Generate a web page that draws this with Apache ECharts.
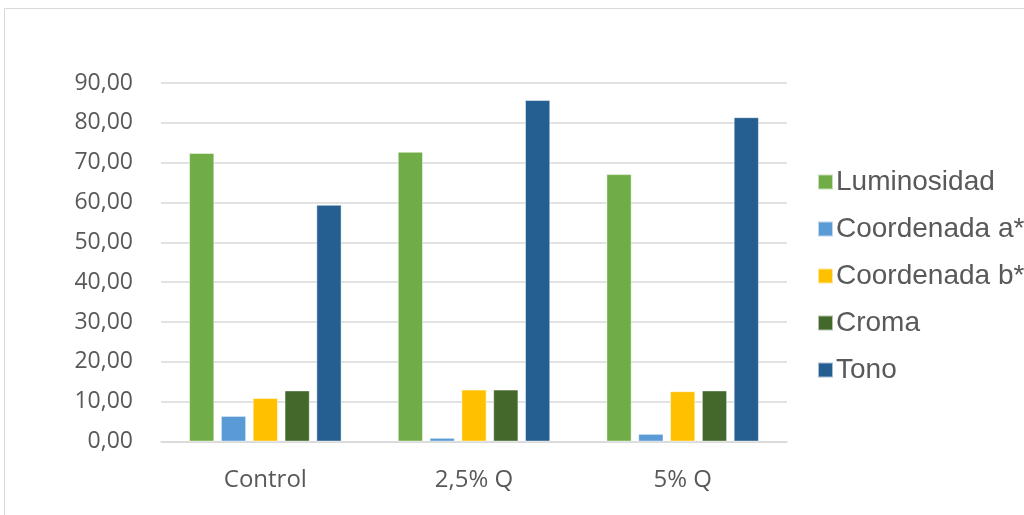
<!DOCTYPE html>
<html>
<head>
<meta charset="utf-8">
<script src="https://cdn.jsdelivr.net/npm/echarts@6/dist/echarts.min.js"></script>
<style>
  html, body { margin: 0; padding: 0; background: #fff; }
  #chart { width: 1024px; height: 515px; }
</style>
</head>
<body>
<div id="chart"></div>
<script>
// datos
var categories = ['Control', '2,5% Q', '5% Q']
var luminosidad = [72.4, 72.7, 67.1]
var coordA = [6.4, 0.9, 1.9]
var coordB = [10.9, 13.0, 12.6]
var croma = [12.8, 13.0, 12.8]
var tono = [59.4, 85.7, 81.4]

var seriesNames = ['Luminosidad', 'Coordenada a*', 'Coordenada b*', 'Croma', 'Tono']
var seriesData = [luminosidad, coordA, coordB, croma, tono]
var colors = ['#70AD47', '#5B9BD5', '#FFC000', '#43682B', '#255E91']

var chart = echarts.init(document.getElementById('chart'))

var series = []
for (var i = 0; i < seriesNames.length; i++) {
  series.push({
    name: seriesNames[i],
    type: 'bar',
    data: seriesData[i],
    barGap: '27%',
    barCategoryGap: '27%',
    itemStyle: {
      color: colors[i],
      borderColor: 'rgba(255,255,255,0.6)',
      borderWidth: 0.8
    }
  })
}

chart.setOption({
  animation: false,
  color: colors,
  graphic: [{
    type: 'rect',
    shape: { x: 4.5, y: 8.5, width: 1100, height: 600 },
    style: { fill: 'none', stroke: '#D9D9D9', lineWidth: 1 },
    silent: true
  }],
  grid: {
    left: 161,
    right: 237,
    top: 83,
    bottom: 73.5
  },
  legend: {
    orient: 'vertical',
    left: 812,
    top: 162,
    itemWidth: 15,
    itemHeight: 15,
    itemGap: 17,
    icon: 'rect',
    data: seriesNames,
    textStyle: {
      fontFamily: 'Liberation Sans',
      fontSize: 28,
      lineHeight: 30,
      color: '#595959',
      padding: [0, 0, 0, -2]
    }
  },
  xAxis: {
    type: 'category',
    data: categories,
    axisTick: { show: false },
    axisLine: { lineStyle: { color: '#D9D9D9', width: 1.5 } },
    axisLabel: {
      margin: 27,
      fontFamily: 'Open Sans',
      fontSize: 24,
      color: '#595959'
    }
  },
  yAxis: {
    type: 'value',
    min: 0,
    max: 90,
    interval: 10,
    axisLine: { show: false },
    axisTick: { show: false },
    splitLine: { lineStyle: { color: '#D9D9D9', width: 1.5 } },
    axisLabel: {
      margin: 28,
      fontFamily: 'Open Sans',
      fontSize: 23,
      color: '#595959',
      formatter: function (v) {
        return v.toFixed(2).replace('.', ',')
      }
    }
  },
  series: series
})
</script>
</body>
</html>
